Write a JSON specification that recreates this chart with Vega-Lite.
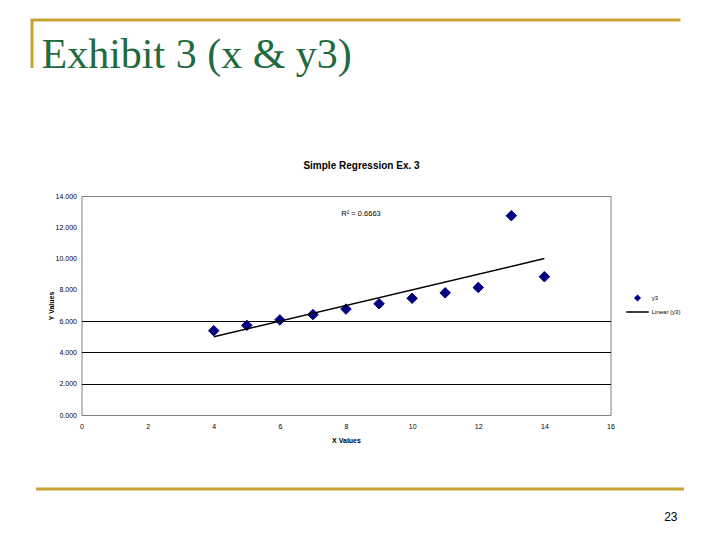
{
  "$schema": "https://vega.github.io/schema/vega-lite/v6.json",
  "background": "white",
  "padding": {"left": 28.5, "top": 16.5, "right": 0, "bottom": 0},
  "autosize": {"type": "pad"},
  "config": {
    "view": {"stroke": null},
    "font": "Liberation Sans"
  },
  "spacing": 41.5,
  "vconcat": [
    {
      "width": 647,
      "height": 98.5,
      "data": {"values": [{"v": 0}]},
      "mark": {"type": "point", "opacity": 0},
      "encoding": {
        "x": {"field": "v", "type": "quantitative", "scale": {"domain": [0, 1]},
          "axis": {"orient": "top", "domainColor": "#C8A232", "domainWidth": 3, "domainCap": "square", "ticks": false, "labels": false, "grid": false, "title": null}},
        "y": {"field": "v", "type": "quantitative", "scale": {"domain": [0, 1], "reverse": true},
          "axis": {"domainColor": "#C8A232", "domainWidth": 3, "domainDash": [48, 600], "ticks": false, "labels": false, "grid": false, "title": null}}
      },
      "title": {
        "text": "Exhibit 3 (x & y3)",
        "orient": "top", "anchor": "start", "frame": "group",
        "font": "Liberation Serif", "fontSize": 42, "fontWeight": "normal",
        "color": "#1F6B40", "dx": 10, "offset": -93.5, "baseline": "alphabetic"
      }
    },
    {
      "spacing": 0,
      "hconcat": [
        {
          "width": 15,
          "height": 1,
          "data": {"values": []},
          "mark": {"type": "point", "opacity": 0}
        },
        {
          "width": 529,
          "height": 219,
          "view": {"stroke": "#808080", "strokeWidth": 1},
          "title": {
            "text": "Simple Regression Ex. 3",
            "anchor": "middle", "frame": "group",
            "font": "Liberation Sans", "fontSize": 10, "fontWeight": "bold",
            "color": "black", "dx": 15.5, "offset": 13, "baseline": "alphabetic"
          },
          "data": {"values": [
            {"x": 10, "y3": 7.46, "series": "y3"},
            {"x": 8, "y3": 6.77, "series": "y3"},
            {"x": 13, "y3": 12.74, "series": "y3"},
            {"x": 9, "y3": 7.11, "series": "y3"},
            {"x": 11, "y3": 7.81, "series": "y3"},
            {"x": 14, "y3": 8.84, "series": "y3"},
            {"x": 6, "y3": 6.08, "series": "y3"},
            {"x": 4, "y3": 5.39, "series": "y3"},
            {"x": 12, "y3": 8.15, "series": "y3"},
            {"x": 7, "y3": 6.42, "series": "y3"},
            {"x": 5, "y3": 5.73, "series": "y3"}
          ]},
          "layer": [
            {
              "mark": {"type": "point", "filled": true, "size": 110, "opacity": 1, "strokeWidth": 1},
              "encoding": {
                "x": {"field": "x", "type": "quantitative",
                  "scale": {"domain": [0, 16], "nice": false},
                  "axis": {"values": [0, 2, 4, 6, 8, 10, 12, 14, 16], "tickCount": 20, "title": "X Values", "grid": false, "domain": false, "ticks": false, "tickSize": 0,
                    "labelFontSize": 7, "labelColor": "black", "labelPadding": 7, "labelFlush": false, "labelOverlap": false,
                    "titleFontSize": 7, "titleFontWeight": "bold", "titleColor": "black", "titlePadding": 7}},
                "y": {"field": "y3", "type": "quantitative",
                  "scale": {"domain": [0, 14], "nice": false},
                  "axis": {"values": [0, 2, 4, 6, 8, 10, 12, 14], "tickCount": 20, "format": ".3f", "title": "Y Values",
                    "grid": true, "gridWidth": 1,
                    "gridColor": {"condition": {"test": "datum.value > 0 && datum.value < 7", "value": "black"}, "value": "transparent"},
                    "domain": false, "ticks": false, "tickSize": 0,
                    "labelFontSize": 7, "labelColor": "black", "labelPadding": 5, "labelFlush": false, "labelOverlap": false,
                    "titleFontSize": 7, "titleFontWeight": "bold", "titleColor": "black", "titlePadding": 1}},
                "color": {"field": "series", "type": "nominal",
                  "scale": {"domain": ["y3", "Linear (y3)"], "range": ["#000080", "#000000"]},
                  "legend": {"title": null, "orient": "none", "legendX": 602.5, "legendY": 275, "padding": 0,
                    "symbolSize": 25, "symbolStrokeWidth": 1.5, "labelFontSize": 6, "labelColor": "black", "labelOffset": 10.75, "rowPadding": 5}},
                "stroke": {"field": "series", "type": "nominal",
                  "scale": {"domain": ["y3", "Linear (y3)"], "range": ["#000080", "#000000"]},
                  "legend": {"title": null, "orient": "none", "legendX": 602.5, "legendY": 275, "padding": 0,
                    "symbolSize": 25, "symbolStrokeWidth": 1.5, "labelFontSize": 6, "labelColor": "black", "labelOffset": 10.75, "rowPadding": 5}},
                "shape": {"field": "series", "type": "nominal",
                  "scale": {"domain": ["y3", "Linear (y3)"], "range": ["diamond", "M-4.5,0H4.5"]},
                  "legend": {"title": null, "orient": "none", "legendX": 602.5, "legendY": 275, "padding": 0,
                    "symbolSize": 25, "symbolStrokeWidth": 1.5, "labelFontSize": 6, "labelColor": "black", "labelOffset": 10.75, "rowPadding": 5}}
              }
            },
            {
              "transform": [{"regression": "y3", "on": "x"}],
              "mark": {"type": "line", "color": "black", "strokeWidth": 1.5},
              "encoding": {
                "x": {"field": "x", "type": "quantitative"},
                "y": {"field": "y3", "type": "quantitative"}
              }
            },
            {
              "data": {"values": [{"label": "R² = 0.6663"}]},
              "mark": {"type": "text", "align": "left", "baseline": "middle", "fontSize": 7.5, "color": "black"},
              "encoding": {
                "x": {"datum": 7.86, "type": "quantitative"},
                "y": {"datum": 12.85, "type": "quantitative"},
                "text": {"field": "label"}
              }
            }
          ]
        }
      ]
    },
    {
      "spacing": 0,
      "hconcat": [
        {
          "width": 1,
          "height": 1,
          "data": {"values": []},
          "mark": {"type": "point", "opacity": 0}
        },
        {
          "width": 648,
          "height": 1,
          "data": {"values": [{"v": 0}]},
          "mark": {"type": "point", "opacity": 0},
          "encoding": {
            "x": {"field": "v", "type": "quantitative", "scale": {"domain": [0, 1]},
              "axis": {"orient": "top", "domainColor": "#C8A232", "domainWidth": 3, "ticks": false, "labels": false, "grid": false, "title": null}}
          },
          "title": {
            "text": "23", "orient": "bottom", "anchor": "end", "frame": "group",
            "font": "Liberation Sans", "fontSize": 12, "fontWeight": "normal",
            "color": "black", "dx": -6, "offset": 29.5, "baseline": "alphabetic"
          }
        }
      ]
    }
  ]
}
